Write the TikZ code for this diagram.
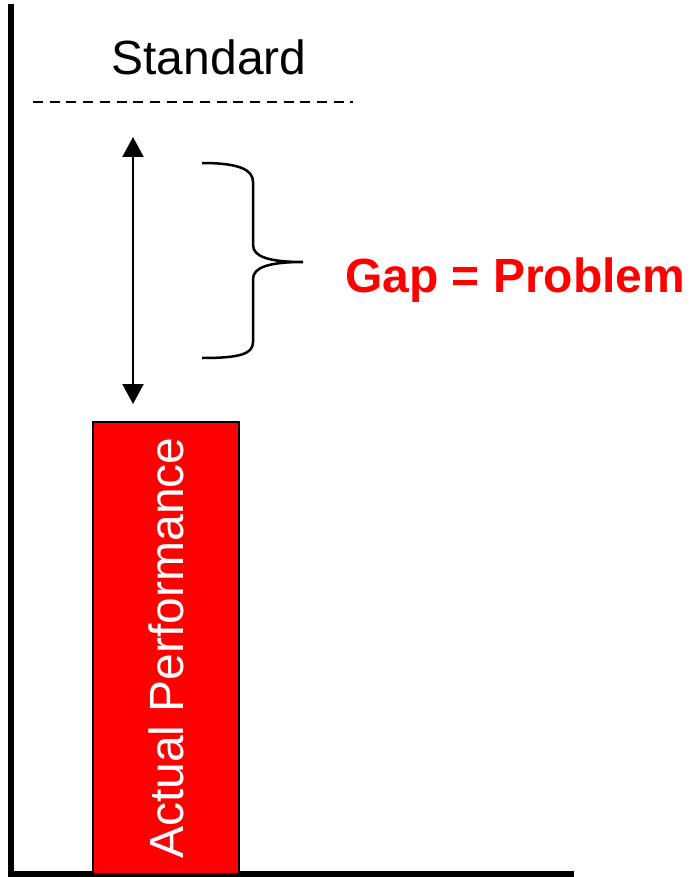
\documentclass[tikz,border=0pt]{standalone}
\usepackage{fontspec}
\setmainfont{Liberation Sans}
\usetikzlibrary{arrows.meta}
\definecolor{pred}{RGB}{255,0,0}
\tikzset{
  axisline/.style={line width=6pt, line join=miter},
  bigtext/.style={font=\fontsize{48}{52}\selectfont, inner sep=0pt},
  stdline/.style={line width=2.5pt, dash pattern=on 10pt off 6.7pt},
  gaparrow/.style={line width=2.2pt, {Triangle[length=20pt,width=21pt]}-{Triangle[length=20pt,width=21pt]}},
  bracestyle/.style={line width=2.5pt},
  bar/.style={draw=black, line width=2pt, fill=pred, minimum width=146pt, minimum height=452pt, inner sep=0pt}
}
\begin{document}
\begin{tikzpicture}[x=1pt,y=-1pt]
\useasboundingbox (0,0) rectangle (692,877);
% axes
\coordinate (axtop) at (10.5,4);
\coordinate (axorigin) at (10.5,874);
\coordinate (axright) at (574,874);
\draw[axisline] (axtop) -- (axorigin) -- (axright);
% standard
\node[bigtext, anchor=base] (std) at (209,75) {Standard};
\coordinate (dashL) at (33,102);
\coordinate (dashR) at (353,102);
\draw[stdline] (dashL) -- (dashR);
% bar
\node[bar] (perf) at (166,648) {};
\node[bigtext, text=white, rotate=90] (perftext) at (perf.center) {Actual Performance};
% arrow
\coordinate (arrtop) at (133,137);
\coordinate (arrbot) at (133,404);
\draw[gaparrow] (arrtop) -- (arrbot);
% brace
\coordinate (brtip) at (303,262);
\draw[bracestyle] (202,163) .. controls (240,163) and (253,170) .. (253,182) -- (253,245)
  .. controls (253,257) and (270,262) .. (brtip)
  .. controls (270,262) and (253,267) .. (253,279) -- (253,342)
  .. controls (253,354) and (240,358) .. (202,358);
% gap label
\node[bigtext, font=\fontsize{48}{52}\selectfont\bfseries, text=pred, anchor=base west] (gap) at (345,292) {Gap = Problem};
\end{tikzpicture}
\end{document}
